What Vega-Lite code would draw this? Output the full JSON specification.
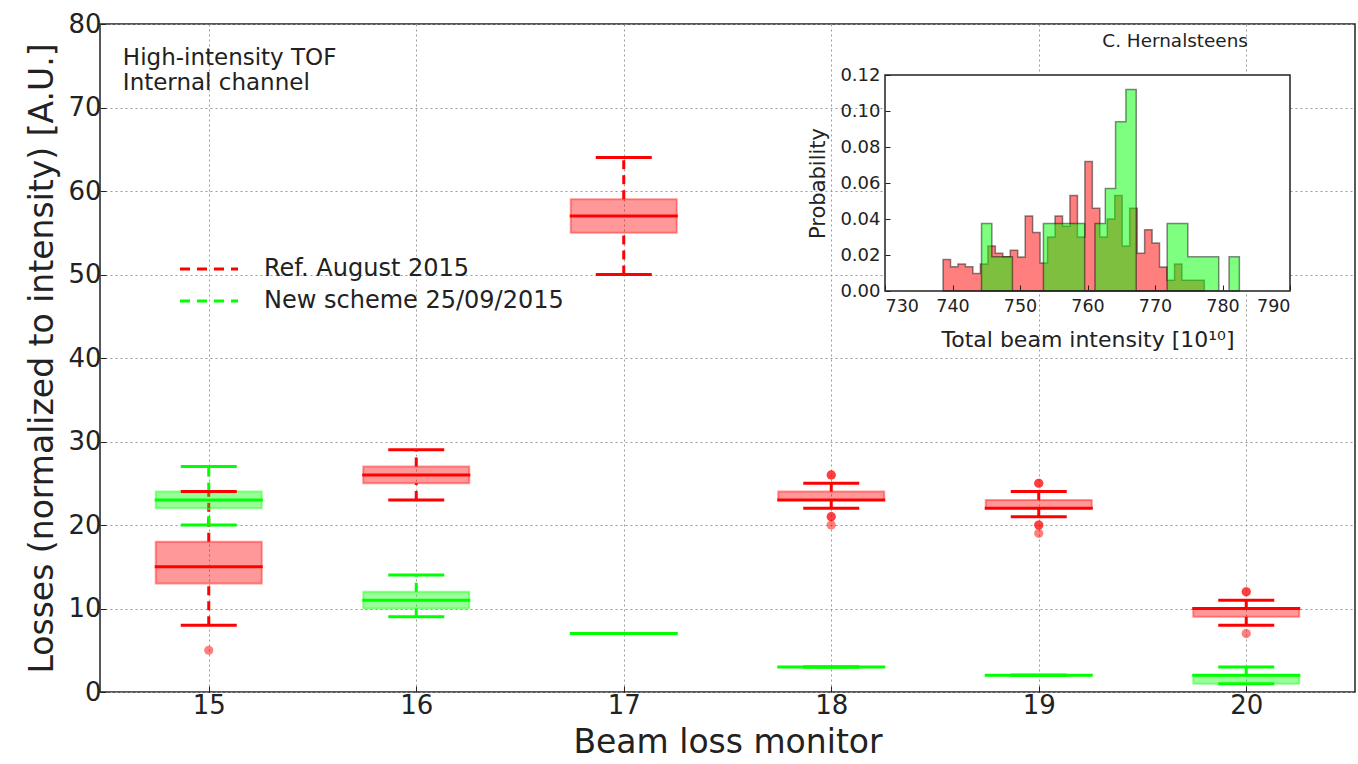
{
  "$schema": "https://vega.github.io/schema/vega-lite/v6.json",
  "width": 1255,
  "height": 668,
  "autosize": {"type": "none"},
  "padding": {"left": 100, "top": 24, "right": 3, "bottom": 72},
  "background": "white",
  "config": {
    "font": "DejaVu Sans",
    "view": {"stroke": "#222", "strokeWidth": 1.5},
    "axis": {"labelColor": "#222", "titleColor": "#222", "tickColor": "#222", "titleFontWeight": "normal", "labelFont": "DejaVu Sans", "titleFont": "DejaVu Sans"}
  },
  "datasets": {
    "boxes": [
      {"monitor": 15, "series": "Ref. August 2015", "lower": 8, "q1": 13, "median": 15, "q3": 18, "upper": 24},
      {"monitor": 16, "series": "Ref. August 2015", "lower": 23, "q1": 25, "median": 26, "q3": 27, "upper": 29},
      {"monitor": 17, "series": "Ref. August 2015", "lower": 50, "q1": 55, "median": 57, "q3": 59, "upper": 64},
      {"monitor": 18, "series": "Ref. August 2015", "lower": 22, "q1": 23, "median": 23, "q3": 24, "upper": 25},
      {"monitor": 19, "series": "Ref. August 2015", "lower": 21, "q1": 22, "median": 22, "q3": 23, "upper": 24},
      {"monitor": 20, "series": "Ref. August 2015", "lower": 8, "q1": 9, "median": 10, "q3": 10, "upper": 11},
      {"monitor": 15, "series": "New scheme 25/09/2015", "lower": 20, "q1": 22, "median": 23, "q3": 24, "upper": 27},
      {"monitor": 16, "series": "New scheme 25/09/2015", "lower": 9, "q1": 10, "median": 11, "q3": 12, "upper": 14},
      {"monitor": 17, "series": "New scheme 25/09/2015", "lower": 7, "q1": 7, "median": 7, "q3": 7, "upper": 7},
      {"monitor": 18, "series": "New scheme 25/09/2015", "lower": 3, "q1": 3, "median": 3, "q3": 3, "upper": 3},
      {"monitor": 19, "series": "New scheme 25/09/2015", "lower": 2, "q1": 2, "median": 2, "q3": 2, "upper": 2},
      {"monitor": 20, "series": "New scheme 25/09/2015", "lower": 1, "q1": 1, "median": 2, "q3": 2, "upper": 3}
    ],
    "outliers": [
      {"monitor": 15, "series": "Ref. August 2015", "value": 5},
      {"monitor": 18, "series": "Ref. August 2015", "value": 26},
      {"monitor": 18, "series": "Ref. August 2015", "value": 26},
      {"monitor": 18, "series": "Ref. August 2015", "value": 21},
      {"monitor": 18, "series": "Ref. August 2015", "value": 21},
      {"monitor": 18, "series": "Ref. August 2015", "value": 20},
      {"monitor": 19, "series": "Ref. August 2015", "value": 25},
      {"monitor": 19, "series": "Ref. August 2015", "value": 25},
      {"monitor": 19, "series": "Ref. August 2015", "value": 20},
      {"monitor": 19, "series": "Ref. August 2015", "value": 20},
      {"monitor": 19, "series": "Ref. August 2015", "value": 19},
      {"monitor": 20, "series": "Ref. August 2015", "value": 12},
      {"monitor": 20, "series": "Ref. August 2015", "value": 12},
      {"monitor": 20, "series": "Ref. August 2015", "value": 7}
    ],
    "histRef": [
      {"edge": 738.6, "prob": 0.0175}, {"edge": 739.71, "prob": 0.0135}, {"edge": 740.81, "prob": 0.015},
      {"edge": 741.92, "prob": 0.0135}, {"edge": 743.02, "prob": 0.0097}, {"edge": 744.13, "prob": 0.015},
      {"edge": 745.24, "prob": 0.025}, {"edge": 746.34, "prob": 0.021}, {"edge": 747.45, "prob": 0.019},
      {"edge": 748.55, "prob": 0.0226}, {"edge": 749.66, "prob": 0.0189}, {"edge": 750.77, "prob": 0.0417},
      {"edge": 751.87, "prob": 0.0325}, {"edge": 752.98, "prob": 0.0156}, {"edge": 754.08, "prob": 0.03},
      {"edge": 755.19, "prob": 0.0417}, {"edge": 756.3, "prob": 0.036}, {"edge": 757.4, "prob": 0.053},
      {"edge": 758.51, "prob": 0.03}, {"edge": 759.61, "prob": 0.072}, {"edge": 760.72, "prob": 0.046},
      {"edge": 761.83, "prob": 0.03}, {"edge": 762.93, "prob": 0.04}, {"edge": 764.04, "prob": 0.053},
      {"edge": 765.14, "prob": 0.025}, {"edge": 766.25, "prob": 0.046}, {"edge": 767.36, "prob": 0.021},
      {"edge": 768.46, "prob": 0.034}, {"edge": 769.57, "prob": 0.0267}, {"edge": 770.67, "prob": 0.0134},
      {"edge": 771.78, "prob": 0.006}, {"edge": 772.89, "prob": 0.015}, {"edge": 773.99, "prob": 0.006},
      {"edge": 775.1, "prob": 0.006}, {"edge": 776.2, "prob": 0.006}, {"edge": 777.31, "prob": 0}
    ],
    "histNew": [
      {"edge": 744.3, "prob": 0.0375}, {"edge": 745.83, "prob": 0.019}, {"edge": 747.36, "prob": 0.019},
      {"edge": 748.88, "prob": 0}, {"edge": 750.41, "prob": 0}, {"edge": 751.94, "prob": 0},
      {"edge": 753.47, "prob": 0.0375}, {"edge": 755.0, "prob": 0.0375}, {"edge": 756.52, "prob": 0.0375},
      {"edge": 758.05, "prob": 0.0375}, {"edge": 759.58, "prob": 0}, {"edge": 761.11, "prob": 0.0375},
      {"edge": 762.64, "prob": 0.057}, {"edge": 764.16, "prob": 0.094}, {"edge": 765.69, "prob": 0.112},
      {"edge": 767.22, "prob": 0}, {"edge": 768.75, "prob": 0}, {"edge": 770.28, "prob": 0},
      {"edge": 771.8, "prob": 0.0375}, {"edge": 773.33, "prob": 0.0375}, {"edge": 774.86, "prob": 0.019},
      {"edge": 776.39, "prob": 0.019}, {"edge": 777.92, "prob": 0.019}, {"edge": 779.44, "prob": 0},
      {"edge": 780.97, "prob": 0.019}, {"edge": 782.5, "prob": 0}
    ]
  },
  "layer": [
    {
      "layer": [
        {
          "data": {"name": "boxes"},
          "mark": {"type": "rule", "strokeWidth": 3, "strokeDash": [9, 6]},
          "encoding": {
            "x": {"field": "monitor", "type": "quantitative",
              "scale": {"domain": [14.5, 20.5], "nice": false, "zero": false},
              "axis": {"values": [15, 16, 17, 18, 19, 20], "format": "d", "title": "Beam loss monitor",
                "labelFontSize": 26, "titleFontSize": 33, "grid": true, "gridDash": [2, 3], "gridColor": "#9a9a9a",
                "tickSize": -6, "domain": false, "labelPadding": 6, "titlePadding": 8}},
            "y": {"field": "q3", "type": "quantitative",
              "scale": {"domain": [0, 80], "nice": false},
              "axis": {"values": [0, 10, 20, 30, 40, 50, 60, 70, 80], "title": "Losses (normalized to intensity) [A.U.]",
                "labelFontSize": 26, "titleFontSize": 33, "grid": true, "gridDash": [2, 3], "gridColor": "#9a9a9a",
                "tickSize": -6, "domain": false, "labelPadding": 5, "titlePadding": 8}},
            "y2": {"field": "upper"},
            "color": {"field": "series", "type": "nominal",
              "scale": {"domain": ["Ref. August 2015", "New scheme 25/09/2015"], "range": ["#ff0000", "#00ff00"]},
              "legend": {"orient": "none", "legendX": 97, "legendY": 233, "title": null, "padding": 0,
                "symbolType": "M-3,0H3", "symbolSize": 374, "symbolStrokeWidth": 3, "symbolDash": [10, 7],
                "symbolFillColor": "transparent", "symbolOpacity": 1,
                "labelFontSize": 24, "labelOffset": 43, "labelLimit": 500, "labelColor": "#222", "rowPadding": 8, "labelFont": "DejaVu Sans",
                "encode": {"symbols": {"update": {"stroke": {"scale": "color", "field": "value"}, "fill": {"value": "transparent"}, "strokeOpacity": {"value": 1}, "opacity": {"value": 1}}}}}}
          }
        },
        {
          "data": {"name": "boxes"},
          "mark": {"type": "rule", "strokeWidth": 3, "strokeDash": [9, 6]},
          "encoding": {
            "x": {"field": "monitor", "type": "quantitative"},
            "y": {"field": "lower", "type": "quantitative"},
            "y2": {"field": "q1"},
            "color": {"field": "series", "type": "nominal"}
          }
        },
        {
          "data": {"name": "boxes"},
          "mark": {"type": "bar", "orient": "vertical", "size": 106, "fillOpacity": 0.4},
          "encoding": {
            "x": {"field": "monitor", "type": "quantitative"},
            "y": {"field": "q1", "type": "quantitative"},
            "y2": {"field": "q3"},
            "color": {"field": "series", "type": "nominal"}
          }
        },
        {
          "data": {"name": "boxes"},
          "mark": {"type": "bar", "orient": "vertical", "size": 106, "filled": false, "strokeOpacity": 0.4, "strokeWidth": 2},
          "encoding": {
            "x": {"field": "monitor", "type": "quantitative"},
            "y": {"field": "q1", "type": "quantitative"},
            "y2": {"field": "q3"},
            "color": {"field": "series", "type": "nominal"}
          }
        },
        {
          "data": {"name": "boxes"},
          "mark": {"type": "tick", "orient": "horizontal", "size": 56, "thickness": 3, "opacity": 1},
          "encoding": {
            "x": {"field": "monitor", "type": "quantitative"},
            "y": {"field": "upper", "type": "quantitative"},
            "color": {"field": "series", "type": "nominal"}
          }
        },
        {
          "data": {"name": "boxes"},
          "mark": {"type": "tick", "orient": "horizontal", "size": 56, "thickness": 3, "opacity": 1},
          "encoding": {
            "x": {"field": "monitor", "type": "quantitative"},
            "y": {"field": "lower", "type": "quantitative"},
            "color": {"field": "series", "type": "nominal"}
          }
        },
        {
          "data": {"name": "boxes"},
          "mark": {"type": "tick", "orient": "horizontal", "size": 108, "thickness": 3, "opacity": 1},
          "encoding": {
            "x": {"field": "monitor", "type": "quantitative"},
            "y": {"field": "median", "type": "quantitative"},
            "color": {"field": "series", "type": "nominal"}
          }
        },
        {
          "data": {"name": "outliers"},
          "mark": {"type": "circle", "size": 85, "opacity": 0.5},
          "encoding": {
            "x": {"field": "monitor", "type": "quantitative"},
            "y": {"field": "value", "type": "quantitative"},
            "color": {"field": "series", "type": "nominal"}
          }
        },
        {
          "data": {"values": [{"label": ["High-intensity TOF", "Internal channel"]}]},
          "mark": {"type": "text", "align": "left", "baseline": "alphabetic", "fontSize": 23, "lineHeight": 25, "color": "#222"},
          "encoding": {
            "x": {"datum": 14.586},
            "y": {"datum": 75.1},
            "text": {"field": "label"}
          }
        },
        {
          "data": {"values": [{"label": "C. Hernalsteens"}]},
          "mark": {"type": "text", "align": "right", "baseline": "alphabetic", "fontSize": 18.4, "color": "#222"},
          "encoding": {
            "x": {"datum": 20.008},
            "y": {"datum": 77.3},
            "text": {"field": "label"}
          }
        }
      ]
    },
    {
      "layer": [
        {
          "data": {"values": [{"x0": 730, "x1": 790, "y0": 0, "y1": 0.12}]},
          "mark": {"type": "rect", "fill": "white", "stroke": null},
          "encoding": {
            "x": {"field": "x0", "type": "quantitative",
              "scale": {"domain": [730, 790], "range": [785, 1190], "nice": false, "zero": false},
              "axis": {"orient": "bottom", "offset": -402, "values": [730, 740, 750, 760, 770, 780, 790],
                "title": "Total beam intensity [10¹⁰]", "labelFontSize": 17.5, "titleFontSize": 22,
                "grid": false, "domain": false, "tickSize": -5, "labelPadding": 12, "titlePadding": 15, "zindex": 2}},
            "x2": {"field": "x1"},
            "y": {"field": "y0", "type": "quantitative",
              "scale": {"domain": [0, 0.12], "range": [267, 51], "nice": false, "zero": false},
              "axis": {"orient": "left", "offset": -785, "values": [0, 0.02, 0.04, 0.06, 0.08, 0.1, 0.12], "format": ".2f",
                "title": "Probability", "labelFontSize": 18, "titleFontSize": 21,
                "grid": false, "domain": false, "tickSize": -5, "labelPadding": 10, "titlePadding": 11, "zindex": 2}},
            "y2": {"field": "y1"}
          }
        },
        {
          "data": {"name": "histRef"},
          "mark": {"type": "area", "interpolate": "step-after", "color": "#ff0000", "fillOpacity": 0.5, "stroke": "#000", "strokeOpacity": 0.45, "strokeWidth": 1.5},
          "encoding": {
            "x": {"field": "edge", "type": "quantitative"},
            "y": {"field": "prob", "type": "quantitative", "stack": null}
          }
        },
        {
          "data": {"name": "histNew"},
          "mark": {"type": "area", "interpolate": "step-after", "color": "#00ff00", "fillOpacity": 0.5, "stroke": "#000", "strokeOpacity": 0.45, "strokeWidth": 1.5},
          "encoding": {
            "x": {"field": "edge", "type": "quantitative"},
            "y": {"field": "prob", "type": "quantitative", "stack": null}
          }
        },
        {
          "data": {"values": [{"x0": 730, "x1": 790, "y0": 0, "y1": 0.12}]},
          "mark": {"type": "rect", "fill": null, "fillOpacity": 0, "stroke": "#222", "strokeWidth": 1.5},
          "encoding": {
            "x": {"field": "x0", "type": "quantitative"},
            "x2": {"field": "x1"},
            "y": {"field": "y0", "type": "quantitative"},
            "y2": {"field": "y1"}
          }
        }
      ]
    }
  ],
  "resolve": {
    "scale": {"x": "independent", "y": "independent"},
    "axis": {"x": "independent", "y": "independent"}
  }
}
